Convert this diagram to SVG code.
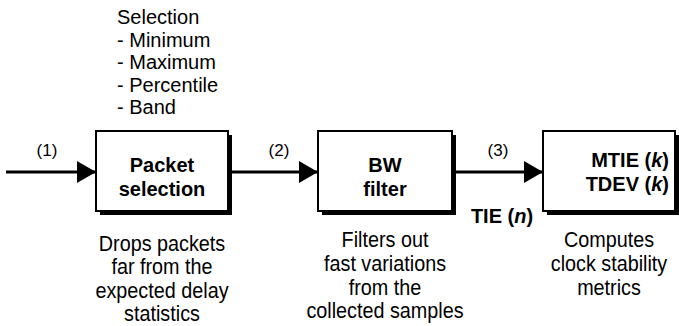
<svg xmlns="http://www.w3.org/2000/svg" width="679" height="326" viewBox="0 0 679 326">
<style>
text{font-family:"Liberation Sans",Arial,sans-serif;fill:#000}
.b{font-weight:bold;font-size:20px}
.r{font-size:20px}
.d{font-size:22px}
.lbl{font-size:17px}
.box{fill:#fff;stroke:#000;stroke-width:2}
.sh{fill:#000}
.c{stroke:#000;stroke-width:3;fill:none}
</style>
<defs>
<marker id="ah" markerUnits="userSpaceOnUse" markerWidth="20" markerHeight="22" refX="19" refY="11" orient="auto">
<path d="M0,0 L19,11 L0,22 Z" fill="#000"/>
</marker>
</defs>
<g id="selection-list">
<text class="r" x="117" y="24">Selection</text>
<text class="r" x="117" y="47">- Minimum</text>
<text class="r" x="117" y="69">- Maximum</text>
<text class="r" x="117" y="92">- Percentile</text>
<text class="r" x="117" y="114">- Band</text>
</g>
<g id="connectors">
<line class="c" x1="6" y1="172" x2="96" y2="172" marker-end="url(#ah)"/>
<line class="c" x1="231" y1="172" x2="318" y2="172" marker-end="url(#ah)"/>
<line class="c" x1="455" y1="172" x2="543" y2="172" marker-end="url(#ah)"/>
<text class="lbl" x="47" y="156" text-anchor="middle">(1)</text>
<text class="lbl" x="279" y="156" text-anchor="middle">(2)</text>
<text class="lbl" x="498" y="156" text-anchor="middle">(3)</text>
<text class="b" x="502" y="223" text-anchor="middle">TIE (<tspan font-style="italic">n</tspan>)</text>
</g>
<g id="packet-selection">
<rect class="sh" x="100" y="135" width="132" height="80"/>
<rect class="box" x="96" y="131" width="132" height="80"/>
<text class="b" x="162" y="172" text-anchor="middle">Packet</text>
<text class="b" x="162" y="196" text-anchor="middle">selection</text>
<g transform="translate(162,0) scale(0.9,1)">
<text class="d" x="0" y="251" text-anchor="middle">Drops packets</text>
<text class="d" x="0" y="274.5" text-anchor="middle">far from the</text>
<text class="d" x="0" y="298" text-anchor="middle">expected delay</text>
<text class="d" x="0" y="321" text-anchor="middle">statistics</text>
</g>
</g>
<g id="bw-filter">
<rect class="sh" x="322" y="135" width="134" height="80"/>
<rect class="box" x="318" y="131" width="134" height="80"/>
<text class="b" x="385" y="172" text-anchor="middle">BW</text>
<text class="b" x="385" y="196" text-anchor="middle">filter</text>
<g transform="translate(385,0) scale(0.9,1)">
<text class="d" x="0" y="247" text-anchor="middle">Filters out</text>
<text class="d" x="0" y="271" text-anchor="middle">fast variations</text>
<text class="d" x="0" y="295" text-anchor="middle">from the</text>
<text class="d" x="0" y="318" text-anchor="middle">collected samples</text>
</g>
</g>
<g id="metrics">
<rect class="sh" x="547" y="135" width="132" height="80"/>
<rect class="box" x="543" y="131" width="132" height="80"/>
<text class="b" x="669" y="167" text-anchor="end">MTIE (<tspan font-style="italic">k</tspan>)</text>
<text class="b" x="669" y="191" text-anchor="end">TDEV (<tspan font-style="italic">k</tspan>)</text>
<g transform="translate(609,0) scale(0.9,1)">
<text class="d" x="0" y="247" text-anchor="middle">Computes</text>
<text class="d" x="0" y="271" text-anchor="middle">clock stability</text>
<text class="d" x="0" y="295" text-anchor="middle">metrics</text>
</g>
</g>
</svg>
